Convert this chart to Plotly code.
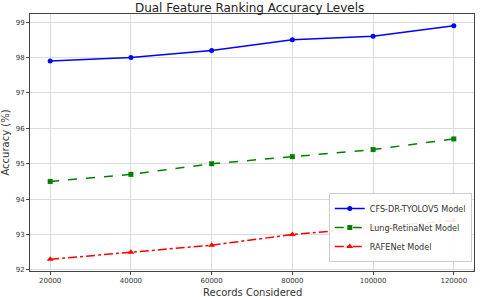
import plotly.graph_objects as go

records = [20000, 40000, 60000, 80000, 100000, 120000]
cfs = [97.9, 98.0, 98.2, 98.5, 98.6, 98.9]
lung = [94.5, 94.7, 95.0, 95.2, 95.4, 95.7]
rafe = [92.3, 92.5, 92.7, 93.0, 93.2, 93.4]
names = ["CFS-DR-TYOLOV5 Model", "Lung-RetinaNet Model", "RAFENet Model"]

fig = go.Figure()
fig.add_trace(go.Scatter(x=records, y=cfs, name=names[0], mode="lines+markers",
                         line=dict(color="blue", width=1.5, dash="solid"),
                         marker=dict(symbol="circle", size=5, color="blue")))
fig.add_trace(go.Scatter(x=records, y=lung, name=names[1], mode="lines+markers",
                         line=dict(color="green", width=1.5, dash="dash"),
                         marker=dict(symbol="square", size=5, color="green")))
fig.add_trace(go.Scatter(x=records, y=rafe, name=names[2], mode="lines+markers",
                         line=dict(color="red", width=1.5, dash="dashdot"),
                         marker=dict(symbol="triangle-up", size=6, color="red")))

fig.update_layout(
    width=480, height=297,
    margin=dict(l=28, r=5, t=14, b=26),
    paper_bgcolor="white", plot_bgcolor="white",
    font=dict(family="DejaVu Sans", color="#333"),
    title=dict(text="Dual Feature Ranking Accuracy Levels", x=0.52, xanchor="center",
               y=0.988, yanchor="top", font=dict(size=12, color="#222")),
    xaxis=dict(range=[15000, 125000], tickvals=records, ticktext=[str(r) for r in records],
               tickfont=dict(size=7), showgrid=True, gridcolor="#dcdcdc", gridwidth=1,
               showline=True, linecolor="#444", linewidth=1, mirror=True,
               ticks="outside", ticklen=3, tickcolor="#444", zeroline=False),
    yaxis=dict(range=[91.97, 99.23], tickvals=[92, 93, 94, 95, 96, 97, 98, 99],
               tickfont=dict(size=7), showgrid=True, gridcolor="#dcdcdc", gridwidth=1,
               showline=True, linecolor="#444", linewidth=1, mirror=True,
               ticks="outside", ticklen=3, tickcolor="#444", zeroline=False,
               title=dict(text="Accuracy (%)", font=dict(size=10), standoff=4)),
    legend=dict(x=0.995, y=0.035, xanchor="right", yanchor="bottom",
                bgcolor="rgba(255,255,255,0.9)", bordercolor="#ccc", borderwidth=1,
                font=dict(size=8.1), tracegroupgap=0, itemwidth=30),
    showlegend=True,
    annotations=[dict(text="Records Considered", xref="paper", yref="paper",
                      x=0.5, y=-0.053, xanchor="center", yanchor="top",
                      showarrow=False, font=dict(size=10, color="#333"))],
)

fig.write_html("out.html", config={"displayModeBar": False},
               post_script="document.body.style.margin='0';document.body.style.padding='0';")
